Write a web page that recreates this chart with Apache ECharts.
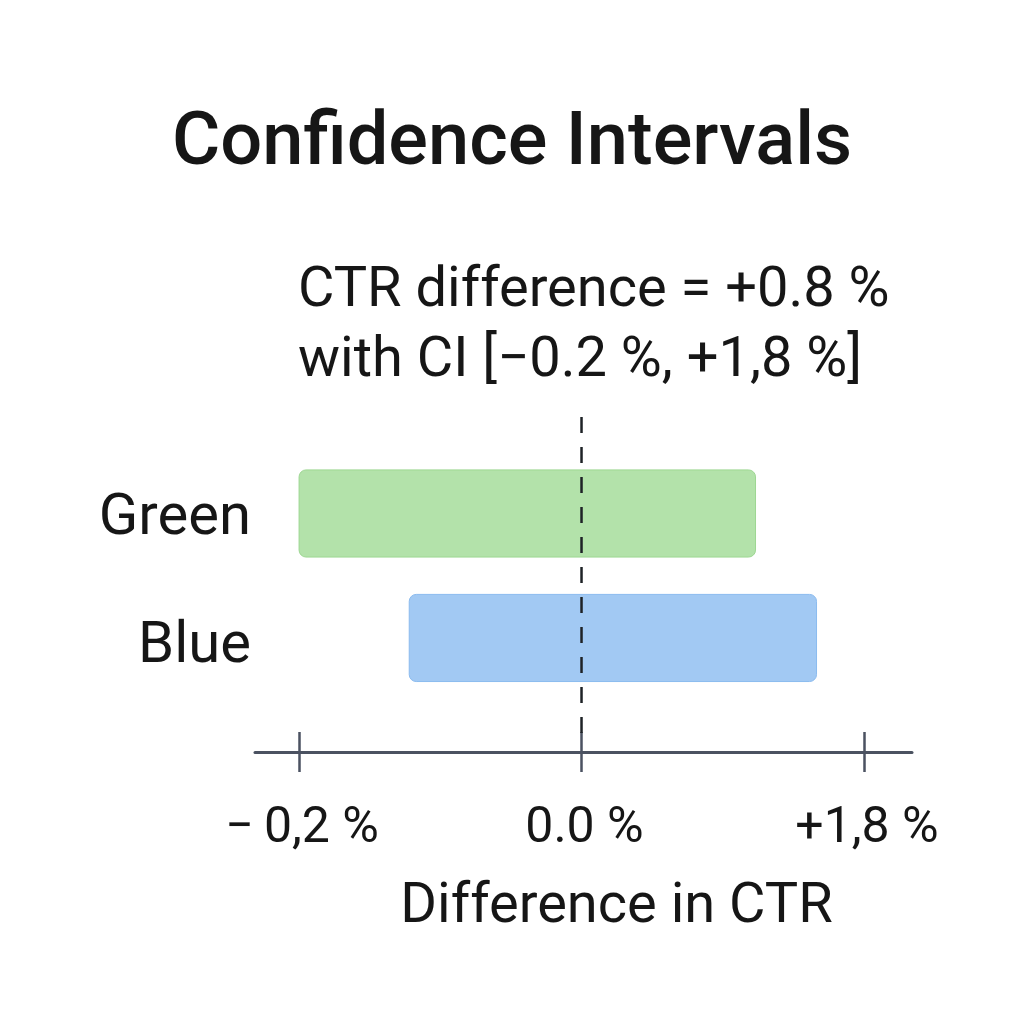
<!DOCTYPE html>
<html>
<head>
<meta charset="utf-8">
<script src="https://cdn.jsdelivr.net/npm/echarts@6/dist/echarts.min.js"></script>
<style>html,body{margin:0;padding:0;background:#fff}#c{width:1024px;height:1024px}</style>
</head>
<body>
<div id="c"></div>
<script>
// Groups (rows, top to bottom)
const categories = ['Green', 'Blue'];
// Interval ends in plot units of the drawn axis (tick -1 = "−0,2 %", 0 = "0.0 %", 1 = "+1,8 %")
const intervalStart = [-1.0, -0.61];
const intervalEnd = [0.616, 0.832];
// Axis ticks and their labels
const tickValues = [-1, 0, 1];
const tickLabels = ['\u2212\u20090,2 %', '0.0 %', '+1,8 %'];
const zeroLine = [0];
const barColors = ['#b3e2aa', '#a2c9f3'];
const barBorders = ['#9dd792', '#8bbbef'];

const FONT = 'Roboto';
const rowValues = categories.map((c, i) => i + 1);

const chart = echarts.init(document.getElementById('c'), null, {renderer: 'canvas'});
const xCommon = {type: 'value', min: -1.156, max: 1.17, splitLine: {show: false}};

chart.setOption({
  backgroundColor: '#ffffff',
  animation: false,
  title: [
    {text: 'Confidence Intervals', left: 'center', top: 103,
     textStyle: {fontFamily: FONT, fontSize: 74, fontWeight: 500, color: '#161616'}},
    {text: 'CTR difference = +0.8 %\nwith CI [\u22120.2 %, +1,8 %]', left: 293, top: 252,
     textStyle: {fontFamily: FONT, fontSize: 56, fontWeight: 400, color: '#161616', lineHeight: 70}}
  ],
  grid: {left: 255, right: 112, top: 417, bottom: 272, containLabel: false},
  xAxis: [
    Object.assign({}, xCommon, {
      position: 'bottom',
      axisLine: {show: true, lineStyle: {color: '#4b5261', width: 3}},
      axisTick: {show: true, customValues: tickValues, length: 20, lineStyle: {color: '#4b5261', width: 2.5}},
      axisLabel: {customValues: tickValues, margin: 52, fontFamily: FONT, fontSize: 50, color: '#161616',
        padding: [0, 0, 0, 6],
        formatter: v => tickLabels[tickValues.indexOf(Math.round(v))] || ''},
      name: 'Difference in CTR', nameLocation: 'middle', nameGap: 128,
      nameTextStyle: {fontFamily: FONT, fontSize: 56, color: '#161616', padding: [0, 0, 0, 66]}
    }),
    Object.assign({}, xCommon, {
      position: 'bottom',
      axisLine: {show: false},
      axisTick: {show: true, inside: true, customValues: tickValues, length: 20, lineStyle: {color: '#4b5261', width: 2.5}},
      axisLabel: {show: false}
    })
  ],
  yAxis: {
    type: 'value', inverse: true, min: 0.225, max: 2.916,
    axisLine: {show: false}, axisTick: {show: false}, splitLine: {show: false},
    axisLabel: {customValues: rowValues, margin: 4, color: '#161616',
      formatter: v => {
        const i = Math.round(v) - 1;
        return i === 0 ? '{g|' + categories[0] + '}' : (i === 1 ? '{b|' + categories[1] + '}' : '');
      },
      rich: {
        g: {fontFamily: FONT, fontSize: 58, color: '#161616', padding: [12, 0, 0, 0]},
        b: {fontFamily: FONT, fontSize: 58, color: '#161616', padding: [20, 0, 0, 0]}
      }
    }
  },
  series: [
    {
      type: 'custom',
      xAxisIndex: 0,
      data: categories.map((c, i) => [intervalStart[i], intervalEnd[i], rowValues[i], i]),
      renderItem: function (params, api) {
        const s = api.coord([api.value(0), api.value(2)]);
        const e = api.coord([api.value(1), api.value(2)]);
        const h = api.size([0, 0.7])[1];
        const idx = api.value(3);
        return {
          type: 'rect',
          shape: {x: s[0], y: s[1] - h / 2, width: e[0] - s[0], height: h, r: 7},
          style: {fill: barColors[idx], stroke: barBorders[idx], lineWidth: 1}
        };
      },
      z: 2
    },
    {
      type: 'line',
      xAxisIndex: 0,
      data: [[zeroLine[0], 0.225], [zeroLine[0], 2.86]],
      symbol: 'none',
      lineStyle: {color: '#1e2226', width: 2.5, type: [16, 14]},
      z: 5
    }
  ]
});
</script>
</body>
</html>
